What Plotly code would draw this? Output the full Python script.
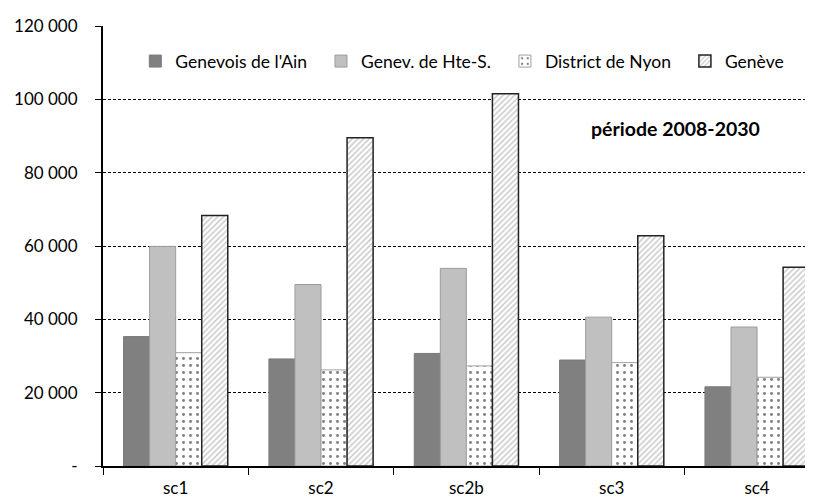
import plotly.graph_objects as go

# scenarios and series (emplois 2008-2030)
scenarios = ['sc1', 'sc2', 'sc2b', 'sc3', 'sc4']
genevois_ain = [35300, 29200, 30700, 28900, 21600]
genev_hte_s = [59900, 49500, 53900, 40600, 37900]
district_nyon = [30900, 26200, 27300, 28200, 24200]
geneve = [68300, 89500, 101500, 62800, 54200]

y_ticks = [0, 20000, 40000, 60000, 80000, 100000, 120000]
y_tick_text = ['-', '20 000', '40 000', '60 000', '80 000', '100 000', '120 000']

FONT = 'Lato, Roboto, sans-serif'
PAD = '\u00a0\u00a0'  # a little extra room between legend entries

fig = go.Figure()

fig.add_trace(go.Bar(
    x=scenarios, y=genevois_ain, name="Genevois de l'Ain" + PAD,
    marker=dict(color='#808080', line=dict(color='#7a7a7a', width=1)),
))
fig.add_trace(go.Bar(
    x=scenarios, y=genev_hte_s, name='Genev. de Hte-S.' + PAD,
    marker=dict(color='#c0c0c0', line=dict(color='#9c9c9c', width=1)),
))
fig.add_trace(go.Bar(
    x=scenarios, y=district_nyon, name='District de Nyon' + PAD,
    marker=dict(color='white', line=dict(color='#a0a0a0', width=1),
                pattern=dict(shape='.', fgcolor='black', bgcolor='white',
                             size=7, solidity=0.14)),
))
fig.add_trace(go.Bar(
    x=scenarios, y=geneve, name='Genève',
    marker=dict(color='white', line=dict(color='#222222', width=1.5),
                pattern=dict(shape='/', fgcolor='#9a9a9a', bgcolor='white',
                             size=4, solidity=0.4)),
))

fig.add_annotation(
    text='<b>période 2008-2030</b>', xref='paper', yref='paper',
    x=0.798, y=0.767, xanchor='center', yanchor='middle', showarrow=False,
    font=dict(family=FONT, size=19.5, color='black'),
)

fig.update_layout(
    width=813, height=498,
    margin=dict(l=95, r=0, t=18, b=40),
    plot_bgcolor='white', paper_bgcolor='white',
    font=dict(family=FONT, size=17, color='black'),
    barmode='group', bargap=0.283, bargroupgap=0,
    legend=dict(orientation='h', x=0.045, y=0.92, xanchor='left', yanchor='middle',
                font=dict(size=17.5), bgcolor='rgba(0,0,0,0)', itemwidth=30),
    showlegend=True,
)

fig.update_xaxes(
    type='category', range=[-0.5, 4.44],
    showline=True, linecolor='black', linewidth=2,
    ticks='outside', tickson='boundaries', ticklen=7, tickcolor='black', tickwidth=1,
    ticklabelstandoff=6, showgrid=False,
)
fig.update_yaxes(
    range=[0, 120000], tickvals=y_ticks, ticktext=y_tick_text,
    showline=True, linecolor='black', linewidth=2,
    ticks='outside', ticklen=6, tickcolor='black', tickwidth=1,
    ticklabelstandoff=14,
    showgrid=True, gridcolor='black', gridwidth=1, griddash='3px,2px',
    zeroline=False,
)

fig.write_html('out.html')
